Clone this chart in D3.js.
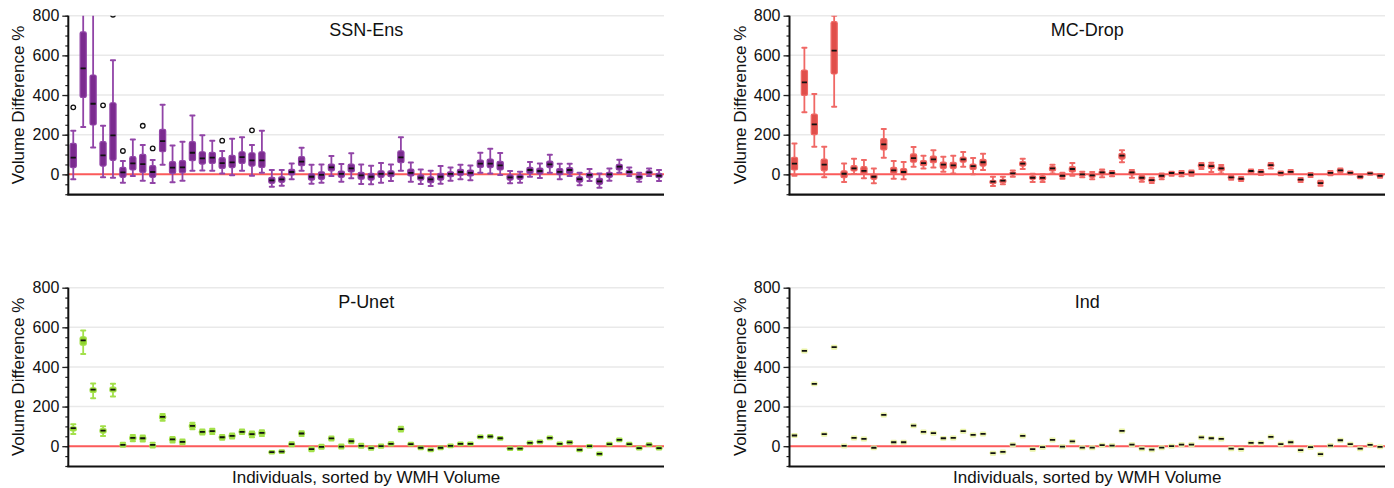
<!DOCTYPE html>
<html>
<head>
<meta charset="utf-8">
<script src="https://cdn.jsdelivr.net/npm/d3@7"></script>
<style>
  html, body { margin: 0; padding: 0; background: #fff; }
  svg { display: block; font-family: "Liberation Sans", Arial, Helvetica, sans-serif; }
</style>
</head>
<body>
<svg id="chart" width="1394" height="488"></svg>
<script>
// ---------------- DATA ----------------
const individuals = d3.range(1, 61).map(i => "S" + i);
const yTicks = [0, 200, 400, 600, 800];
const panelTitles = ["SSN-Ens", "MC-Drop", "P-Unet", "Ind"];
const xAxisLabel = "Individuals, sorted by WMH Volume";
const yAxisLabel = "Volume Difference %";

// each entry: [lower whisker, q1, median, q3, upper whisker]
const ssnEns = [
  [-24,34,84,156,220],[239,388,534,718,950],[136,249,356,501,950],[-15,42,96,165,245],[-17,71,197,361,576],
  [-42,-15,10,35,67],[-8,22,55,89,176],[-32,10,52,101,148],[-44,-15,12,44,72],[49,114,168,227,351],
  [-40,5,34,64,145],[-32,8,35,69,165],[18,69,109,165,297],[20,52,81,114,197],[18,55,84,111,170],
  [5,30,57,84,118],[-5,34,60,96,180],[18,55,87,114,187],[-7,42,71,109,148],[8,35,71,114,220],
  [-62,-45,-30,-15,22],[-57,-40,-25,-12,22],[-24,-3,12,25,55],[18,44,64,89,134],[-47,-29,-12,3,49],
  [-42,-25,-3,13,50],[-8,18,35,52,92],[-37,-15,2,17,52],[-20,12,30,52,106],[-49,-24,-5,10,50],
  [-50,-29,-12,5,44],[-42,-15,2,18,57],[-34,-12,5,18,50],[18,59,86,118,187],[-37,-8,8,27,60],
  [-49,-29,-17,-3,24],[-59,-42,-25,-12,18],[-47,-29,-12,5,42],[-32,-12,2,13,34],[-25,-5,12,25,49],
  [-30,-8,8,22,45],[8,35,54,72,109],[5,34,54,77,129],[-3,22,45,66,108],[-45,-29,-15,-2,17],
  [-42,-25,-13,-2,13],[-12,5,22,35,62],[-18,2,17,32,55],[8,34,50,67,99],[-24,-2,13,29,54],
  [-8,5,22,34,54],[-55,-39,-24,-12,8],[-34,-17,-3,7,27],[-67,-50,-35,-20,5],[-32,-15,0,10,29],
  [8,22,39,50,74],[-8,2,12,20,34],[-37,-24,-13,-3,8],[-8,2,10,18,30],[-34,-17,-7,5,22]
];
// outliers: [individual index (0-based), value]
const ssnEnsOutliers = [[0,338],[3,348],[4,805],[5,118],[7,245],[8,131],[15,170],[18,222]];

const mcDrop = [
  [-7,22,54,86,156],[313,398,464,526,639],[139,200,252,304,405],[-15,18,49,77,139],[341,506,624,770,800],
  [-39,-17,3,18,55],[2,17,30,44,79],[-20,2,18,39,72],[-45,-25,-12,0,29],[84,123,151,180,229],
  [-22,5,20,35,67],[-25,-3,12,29,62],[39,61,82,103,138],[30,44,57,69,94],[35,59,76,92,121],
  [13,29,49,62,89],[5,29,45,61,94],[39,61,76,87,113],[0,25,42,52,82],[22,42,61,76,104],
  [-59,-47,-37,-30,-12],[-50,-42,-32,-25,-12],[-12,-3,5,12,20],[27,42,54,64,79],[-39,-25,-17,-8,3],
  [-39,-29,-18,-8,0],[5,17,30,39,49],[-22,-15,-7,2,8],[-7,12,27,39,57],[-15,-8,0,7,13],
  [-24,-15,-5,3,12],[-15,-3,10,18,25],[-10,-3,7,13,17],[61,77,94,106,121],[-17,-3,10,17,22],
  [-37,-29,-17,-8,-3],[-44,-37,-29,-22,-17],[-25,-17,-7,0,5],[-7,0,7,12,13],[-10,0,8,13,17],
  [-7,2,10,17,20],[27,35,47,54,57],[12,30,42,50,59],[5,18,30,39,47],[-27,-22,-15,-10,-7],
  [-34,-29,-22,-17,-13],[2,8,17,22,25],[-3,5,13,18,22],[30,39,47,54,57],[-5,2,8,13,15],
  [3,8,13,18,22],[-39,-32,-27,-22,-18],[-13,-8,-2,3,7],[-57,-50,-44,-35,-32],[-5,2,8,13,17],
  [8,13,20,27,30],[0,3,8,13,15],[-20,-17,-12,-7,-5],[-2,2,5,8,10],[-17,-12,-7,0,2]
];

const pUnet = [
  [61,77,91,98,111],[465,510,534,552,584],[242,271,286,295,316],[52,66,79,89,101],[251,274,286,298,315],
  [-3,0,7,13,17],[25,30,42,52,56],[24,29,40,50,54],[-7,-3,7,10,17],[128,136,148,158,163],
  [19,24,34,44,47],[10,13,22,30,34],[86,91,103,113,118],[59,62,72,81,84],[62,66,76,84,88],
  [32,35,45,54,57],[39,42,52,61,64],[61,64,72,81,84],[45,50,61,71,74],[52,57,67,77,81],
  [-37,-35,-30,-25,-24],[-34,-32,-27,-22,-20],[0,3,10,17,20],[52,56,64,72,76],[-25,-22,-15,-8,-5],
  [-13,-10,-3,3,7],[29,32,39,45,49],[-12,-8,-2,5,8],[15,18,25,32,35],[-8,-5,2,8,12],
  [-18,-15,-10,-4,-2],[-8,-5,0,5,8],[4,6,12,18,20],[74,78,86,94,98],[3,5,10,15,17],
  [-15,-13,-8,-3,-1],[-26,-24,-19,-14,-12],[-15,-13,-8,-3,-1],[-5,-3,2,6,8],[5,7,12,17,19],
  [5,7,12,17,19],[40,42,47,52,54],[42,44,49,54,56],[33,35,40,45,47],[-19,-17,-12,-7,-5],
  [-19,-17,-12,-7,-5],[10,12,17,22,24],[15,17,22,27,29],[35,37,42,47,49],[5,7,12,17,19],
  [12,14,19,24,26],[-26,-24,-19,-14,-12],[-6,-4,0,4,6],[-46,-44,-39,-34,-32],[3,5,10,15,17],
  [25,27,32,37,39],[3,5,10,15,17],[-17,-15,-10,-5,-3],[1,3,8,13,15],[-17,-15,-10,-5,-3]
];

const ind = [
  [46,50,54,58,61],[473,477,481,485,488],[307,311,315,319,322],[53,57,61,65,68],[492,496,500,504,507],
  [-6,-2,2,6,9],[34,38,42,46,49],[29,33,37,41,44],[-16,-12,-8,-4,-1],[150,154,158,162,165],
  [12,16,20,24,27],[12,16,20,24,27],[96,100,104,108,111],[64,68,72,76,79],[58,62,66,70,73],
  [32,36,40,44,47],[34,38,42,46,49],[68,72,76,80,83],[49,53,57,61,64],[54,58,62,66,69],
  [-43,-39,-35,-31,-28],[-37,-33,-29,-25,-22],[0,4,8,12,15],[44,48,52,56,59],[-23,-19,-15,-11,-8],
  [-13,-9,-5,-1,2],[24,28,32,36,39],[-10,-6,-2,2,5],[16,20,24,28,31],[-15,-11,-7,-3,0],
  [-15,-11,-7,-3,0],[-3,1,5,9,12],[-5,-1,3,7,10],[69,73,77,81,84],[0,4,8,12,15],
  [-20,-16,-12,-8,-5],[-25,-21,-17,-13,-10],[-15,-11,-7,-3,0],[-8,-4,0,4,7],[0,4,8,12,15],
  [0,4,8,12,15],[36,40,44,48,51],[32,36,40,44,47],[29,33,37,41,44],[-20,-16,-12,-8,-5],
  [-23,-19,-15,-11,-8],[9,13,17,21,24],[9,13,17,21,24],[39,43,47,51,54],[2,6,10,14,17],
  [12,16,20,24,27],[-28,-24,-20,-16,-13],[-13,-9,-5,-1,2],[-48,-44,-40,-36,-33],[-5,-1,3,7,10],
  [22,26,30,34,37],[2,6,10,14,17],[-20,-16,-12,-8,-5],[-1,3,7,11,14],[-11,-7,-3,1,4]
];

// ---------------- LAYOUT / STYLE ----------------
const svg = d3.select("#chart");
const panels = [
  { title: panelTitles[0], data: ssnEns, outliers: ssnEnsOutliers, x0: 68.3, x1: 664, y0: 15.7, y1: 194.2, fill: "#7b2b8f", light: "#9144a7", xlab: false },
  { title: panelTitles[1], data: mcDrop, outliers: [], x0: 789.5, x1: 1385, y0: 15.7, y1: 194.2, fill: "#e04f4b", light: "#f06865", xlab: false },
  { title: panelTitles[2], data: pUnet, outliers: [], x0: 68.3, x1: 664, y0: 287.7, y1: 466, fill: "#8ed42b", light: "#a3e04a", xlab: true },
  { title: panelTitles[3], data: ind, outliers: [], x0: 789.5, x1: 1385, y0: 287.7, y1: 466, fill: "#e6f09e", light: "#e9f2a8", xlab: true }
];

panels.forEach((p, pi) => {
  const x = d3.scaleBand().domain(individuals).range([p.x0, p.x1]).paddingInner(0).paddingOuter(0);
  const y = d3.scaleLinear().domain([-100, 800]).range([p.y1, p.y0]);
  const g = svg.append("g");
  const clipId = "clip" + pi;
  svg.append("clipPath").attr("id", clipId).append("rect")
    .attr("x", p.x0).attr("y", p.y0).attr("width", p.x1 - p.x0).attr("height", p.y1 - p.y0);

  // gridlines
  g.append("g").selectAll("line").data(yTicks.filter(t => t !== 0)).join("line")
    .attr("x1", p.x0).attr("x2", p.x1)
    .attr("y1", d => y(d)).attr("y2", d => y(d))
    .attr("stroke", "#e9e9e9").attr("stroke-width", 1.5);

  // zero reference line
  g.append("line").attr("x1", p.x0).attr("x2", p.x1).attr("y1", y(0)).attr("y2", y(0))
    .attr("stroke", "#fb5a5a").attr("stroke-width", 2);

  const bw = x.bandwidth();
  const boxW = bw * 0.62;
  const capW = bw * 0.42;
  const medW = bw * 0.52;
  const plot = g.append("g").attr("clip-path", `url(#${clipId})`);
  const boxes = plot.selectAll("g.box").data(p.data.map((d, i) => ({ id: individuals[i], v: d }))).join("g").attr("class", "box");
  const cx = d => x(d.id) + bw / 2;

  // whiskers
  boxes.append("line").attr("x1", cx).attr("x2", cx)
    .attr("y1", d => y(d.v[0])).attr("y2", d => y(d.v[4]))
    .attr("stroke", p.light).attr("stroke-width", 1.8);
  boxes.append("line").attr("x1", d => cx(d) - capW / 2).attr("x2", d => cx(d) + capW / 2)
    .attr("y1", d => y(d.v[0])).attr("y2", d => y(d.v[0]))
    .attr("stroke", p.light).attr("stroke-width", 2).attr("stroke-linecap", "round");
  boxes.append("line").attr("x1", d => cx(d) - capW / 2).attr("x2", d => cx(d) + capW / 2)
    .attr("y1", d => y(d.v[4])).attr("y2", d => y(d.v[4]))
    .attr("stroke", p.light).attr("stroke-width", 2).attr("stroke-linecap", "round");
  // box
  boxes.append("rect")
    .attr("x", d => cx(d) - boxW / 2).attr("width", boxW)
    .attr("y", d => y(d.v[3])).attr("height", d => Math.max(0.5, y(d.v[1]) - y(d.v[3])))
    .attr("rx", 1.5).attr("ry", 1.5)
    .attr("fill", p.fill).attr("stroke", p.light).attr("stroke-width", 1.2)
    .attr("stroke-linejoin", "round");
  // median
  boxes.append("line").attr("x1", d => cx(d) - medW / 2).attr("x2", d => cx(d) + medW / 2)
    .attr("y1", d => y(d.v[2])).attr("y2", d => y(d.v[2]))
    .attr("stroke", "#111").attr("stroke-width", 1.8);

  // outliers
  plot.selectAll("circle.out").data(p.outliers).join("circle").attr("class", "out")
    .attr("cx", d => x(individuals[d[0]]) + bw / 2).attr("cy", d => y(d[1]))
    .attr("r", 2.3).attr("fill", "#fff").attr("stroke", "#111").attr("stroke-width", 1.3);

  // y axis
  const yAxisMinor = d3.axisLeft(y).tickValues(d3.range(-100, 801, 50)).tickSize(3).tickFormat("");
  const ga = g.append("g").attr("transform", `translate(${p.x0},0)`).call(yAxisMinor);
  ga.select(".domain").remove();
  ga.selectAll(".tick line").attr("stroke", "#222").attr("stroke-width", 1.2);
  const yAxisMajor = d3.axisLeft(y).tickValues(yTicks).tickSize(6).tickPadding(3).tickFormat(d3.format("d"));
  const gm = g.append("g").attr("transform", `translate(${p.x0},0)`).call(yAxisMajor);
  gm.select(".domain").remove();
  gm.selectAll(".tick line").attr("stroke", "#222").attr("stroke-width", 1.3);
  gm.selectAll(".tick text").attr("font-size", 16).attr("fill", "#111")
    .attr("font-family", "'Liberation Sans', Arial, sans-serif");

  g.append("line").attr("x1", p.x0).attr("x2", p.x0).attr("y1", p.y0).attr("y2", p.y1)
    .attr("stroke", "#111").attr("stroke-width", 2);
  g.append("line").attr("x1", p.x0 - 1).attr("x2", p.x1).attr("y1", p.y1 + 0.5).attr("y2", p.y1 + 0.5)
    .attr("stroke", "#111").attr("stroke-width", 2.2);

  // titles
  g.append("text").attr("x", (p.x0 + p.x1) / 2).attr("y", p.y0 + 20.5)
    .attr("text-anchor", "middle").attr("font-size", 18).attr("fill", "#111").text(p.title);
  g.append("text")
    .attr("transform", `translate(${p.x0 - 44},${(p.y0 + p.y1) / 2}) rotate(-90)`)
    .attr("text-anchor", "middle").attr("font-size", 17).attr("fill", "#111").text(yAxisLabel);
  if (p.xlab) {
    g.append("text").attr("x", (p.x0 + p.x1) / 2).attr("y", p.y1 + 17)
      .attr("text-anchor", "middle").attr("font-size", 17).attr("fill", "#111").text(xAxisLabel);
  }
});
</script>
</body>
</html>
